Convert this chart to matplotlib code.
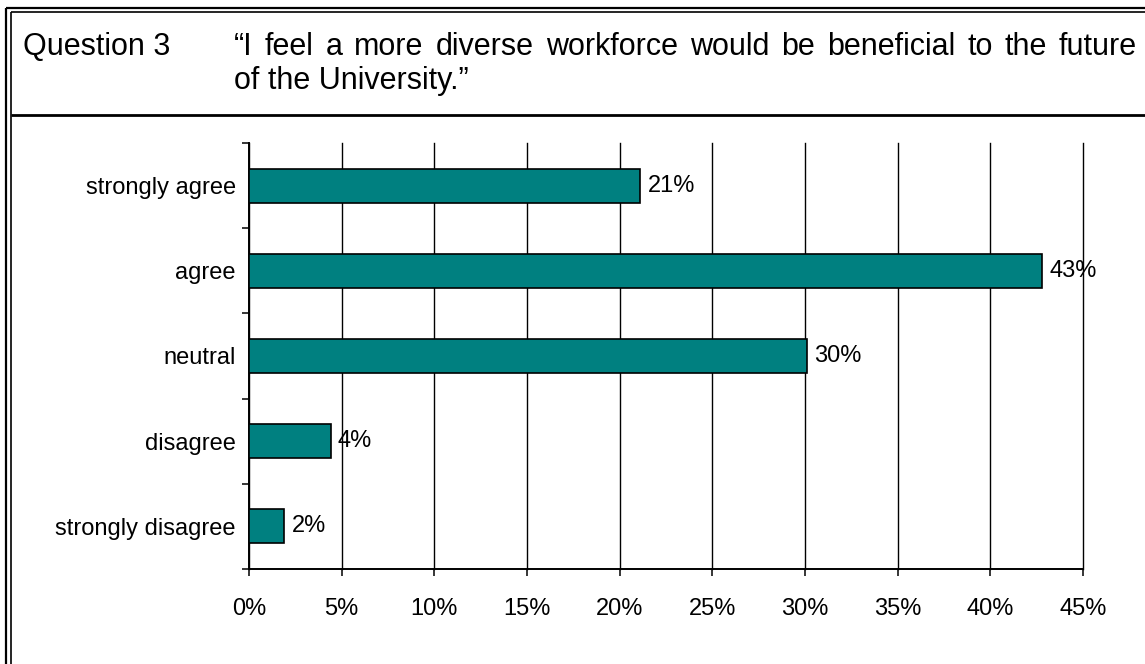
import matplotlib.pyplot as plt
from matplotlib.lines import Line2D
import numpy as np

plt.rcParams.update({
    "font.family": ["Liberation Sans", "DejaVu Sans"],
    "font.size": 17,
})

# survey responses, question 3
categories = ["strongly agree", "agree", "neutral", "disagree", "strongly disagree"]
shares = [21.1, 42.8, 30.1, 4.4, 1.9]
xticks = [0, 5, 10, 15, 20, 25, 30, 35, 40, 45]

question = "Question 3"
statement_1 = "\u201cI feel a more diverse workforce would be beneficial to the future"
statement_2 = "of the University.\u201d"

W, H = 1145, 664
fig = plt.figure(figsize=(W / 100, H / 100), dpi=100)


def fx(px):
    return px / W


def fy(py):
    return 1 - py / H


# table-style frame: double rule on left and top, single rule under header
frame = [
    ((6, 6), (8, H), 1.6),
    ((6, W), (8, 8), 1.6),
    ((11, 11), (12, H), 1.2),
    ((11, W), (12, 12), 1.2),
    ((11, W), (114.5, 114.5), 2.0),
]
for xs, ys, lw in frame:
    fig.add_artist(Line2D([fx(x) for x in xs], [fy(y) for y in ys],
                          transform=fig.transFigure, color="black", lw=lw,
                          solid_capstyle="butt"))

title_size = 22
fig.text(fx(23), fy(55.3), question, fontsize=title_size, va="baseline")

# first line of the statement is justified between left margin and right edge
words = statement_1.split()
renderer = fig.canvas.get_renderer()
word_texts = [fig.text(0, fy(55.3), w, fontsize=title_size, va="baseline") for w in words]
widths = [t.get_window_extent(renderer).width for t in word_texts]
x0, x1 = 234, 1137
gap = (x1 - x0 - sum(widths)) / (len(words) - 1)
x = x0
for t, w in zip(word_texts, widths):
    t.set_x(fx(x))
    x += w + gap
fig.text(fx(234), fy(89.3), statement_2, fontsize=title_size, va="baseline")

ax = fig.add_axes([fx(249), fy(569), fx(1083) - fx(249), fy(143) - fy(569)])
ypos = np.arange(len(categories))
ax.barh(ypos, shares, height=0.4, color="#008080", edgecolor="black",
        linewidth=1.2, zorder=3)
for y, v in zip(ypos, shares):
    ax.text(v + 0.4, y, f"{v:.0f}%", va="center", ha="left", fontsize=17)

ax.set_xlim(0, 45)
ax.set_ylim(len(categories) - 0.5, -0.5)
ax.set_xticks(xticks)
ax.set_xticklabels([f"{t}%" for t in xticks])
ax.set_yticks(np.arange(len(categories) + 1) - 0.5)
ax.set_yticklabels([])
ax.set_yticks(ypos, minor=True)
ax.set_yticklabels(categories, minor=True)
ax.tick_params(axis="y", which="minor", length=0, pad=9.5)
ax.tick_params(axis="y", which="major", length=5, width=1.1, direction="out")
ax.tick_params(axis="x", length=5, width=1.1, direction="out", pad=16)

ax.grid(axis="x", color="black", linewidth=1.0, zorder=0)
for gl in ax.get_xgridlines():
    gl.set_clip_on(False)
ax.set_axisbelow(True)
for side in ("top", "right"):
    ax.spines[side].set_visible(False)
for side in ("left", "bottom"):
    ax.spines[side].set_linewidth(1.4)

fig.savefig("out.png", dpi=100)
